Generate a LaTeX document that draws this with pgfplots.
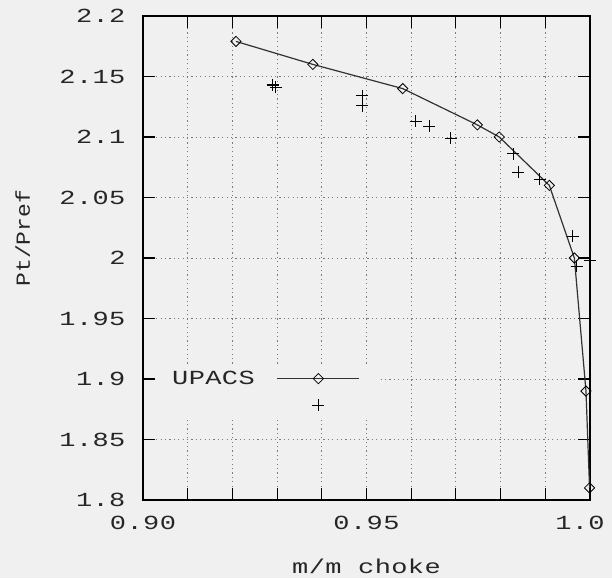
\documentclass[border=0pt]{standalone}
\usepackage{pgfplots}
\pgfplotsset{compat=1.18}
\usepackage{fontspec}
\newfontfamily\plotfont[FakeStretch=1.35,LetterSpace=2]{Liberation Mono}
\newfontfamily\ylabfont[FakeStretch=1.15]{Liberation Mono}
\definecolor{bg}{RGB}{240,240,240}
\definecolor{gridc}{RGB}{125,118,138}
\definecolor{linec}{RGB}{50,50,50}
\pgfplotsset{myleg/.style={legend image code/.code={\draw[mark repeat=2,mark phase=2,##1] plot coordinates {(0pt,0pt) (41pt,0pt) (82pt,0pt)};}}}
\begin{document}
\begin{tikzpicture}
\fill[bg] (-143pt,-78pt) rectangle ++(612pt,578pt);
\useasboundingbox (-143pt,-78pt) rectangle ++(612pt,578pt);
\begin{axis}[
  at={(0pt,0pt)}, anchor=south west,
  scale only axis, width=447pt, height=484pt,
  xmin=0.9, xmax=1.0, ymin=1.8, ymax=2.2,
  clip=false,
  xtick={0.90,0.95,1.00},
  xticklabels={0.90,0.95,\hspace*{-20pt}1.0},
  minor xtick={0.91,0.92,0.93,0.94,0.96,0.97,0.98,0.99},
  ytick={1.8,1.85,1.9,1.95,2.0,2.05,2.1,2.15,2.2},
  yticklabels={1.8,1.85,1.9,1.95,2,2.05,2.1,2.15,2.2},
  grid=both,
  major grid style={gridc, dash pattern=on 1.2pt off 3.2pt, line width=0.9pt},
  minor grid style={gridc, dash pattern=on 1.2pt off 3.2pt, line width=0.9pt},
  tick align=inside,
  major tick length=12pt, minor tick length=12pt,
  every tick/.style={black, line width=1.1pt},
  axis line style={black, line width=1.2pt},
  /pgf/number format/assume math mode=true,
  ticklabel style={font=\plotfont\fontsize{20}{24}\selectfont, text=black!85},
  xticklabel style={yshift=-13pt},
  yticklabel style={xshift=-14pt},
  xlabel={m/m choke},
  xlabel style={font=\plotfont\fontsize{20}{24}\selectfont, text=black!85, at={(rel axis cs:0.5,0)}, anchor=base, yshift=-73pt},
  ylabel={Pt/Pref},
  ylabel style={font=\ylabfont\fontsize{20}{24}\selectfont, text=black!85, at={(rel axis cs:-0.2528,0.541)}, anchor=base},
  legend plot pos=right,
  legend style={at={(rel axis cs:0.0268,0.2769)}, anchor=north west, draw=none, fill=bg,
    inner xsep=17pt, inner ysep=5pt, font=\plotfont\fontsize{20}{24}\selectfont,
    text=black!85, row sep=13pt, column sep=22pt, nodes={inner sep=0pt}},
]
\addplot[linec, line width=1.2pt, mark=square, mark size=3.6pt,
  mark options={rotate=45, solid, black, line width=0.8pt, fill=bg}, myleg]
coordinates {
(0.9208,2.179) (0.9380,2.160) (0.9581,2.140) (0.9748,2.110) (0.9797,2.100)
(0.9909,2.060) (0.9965,2.000) (0.9991,1.890) (0.9999,1.810)
};
\addlegendentry{UPACS}
\addplot[only marks, mark=+, mark size=6pt, black, line width=1.1pt, myleg]
coordinates {
(0.9290,2.143) (0.9297,2.141) (0.9491,2.134) (0.9491,2.126) (0.9610,2.113)
(0.9640,2.109) (0.9688,2.099) (0.9828,2.086) (0.9840,2.071) (0.9888,2.065)
(0.9961,2.018) (0.9970,1.993) (1.0000,1.998)
};
\addlegendentry{\mbox{}}
\end{axis}
\end{tikzpicture}
\end{document}
